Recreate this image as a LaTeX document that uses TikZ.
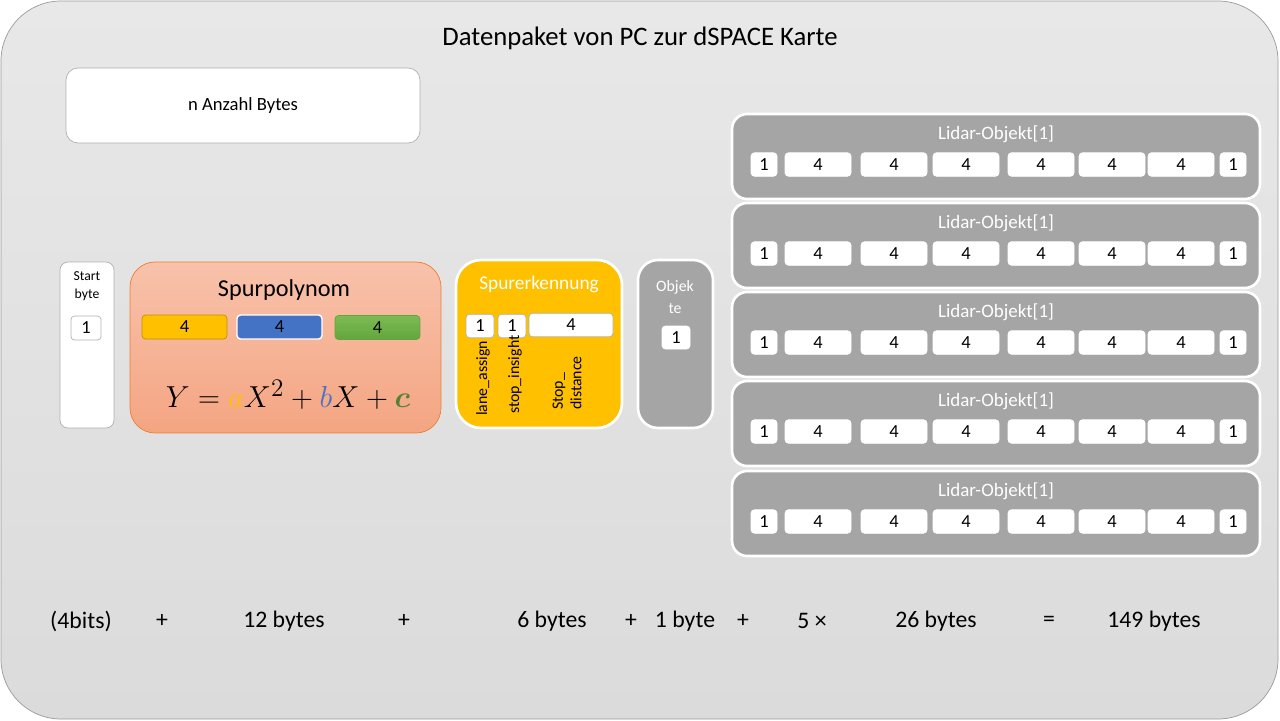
\documentclass[tikz,border=0pt]{standalone}
\usepackage{fontspec}
\setmainfont{Carlito}
\usepackage{amsmath}
\definecolor{bgtop}{HTML}{E8E8E8}
\definecolor{bgbot}{HTML}{DBDBDB}
\definecolor{bgline}{HTML}{9A9A9A}
\definecolor{boxline}{HTML}{B0B0B0}
\definecolor{polytop}{HTML}{F8C2AB}
\definecolor{polybot}{HTML}{F4A582}
\definecolor{polyline}{HTML}{ED7D31}
\definecolor{gold}{HTML}{FFC000}
\definecolor{goldline}{HTML}{BF9000}
\definecolor{bluebar}{HTML}{4472C4}
\definecolor{greentop}{HTML}{7CBB54}
\definecolor{greenbot}{HTML}{64A53D}
\definecolor{greentxt}{HTML}{548235}
\definecolor{objgrey}{HTML}{A5A5A5}
\tikzstyle{wbox}=[shape=rectangle,
                fill=white,
                draw=boxline,
                thin,
                inner sep=0pt]
\tikzstyle{gbox}=[shape=rectangle,
                fill=objgrey,
                draw=white,
                line width=1.5pt,
                inner sep=0pt]
\tikzstyle{byte}=[shape=rectangle,
                fill=white,
                draw=boxline,
                rounded corners=2pt,
                inner sep=0pt,
                minimum height=0.47cm,
                font=\fontsize{10.5}{12}\selectfont]
\tikzstyle{bar}=[shape=rectangle,
                rounded corners=2pt,
                inner sep=0pt,
                minimum height=0.48cm,
                minimum width=1.7cm,
                font=\fontsize{10.5}{12}\selectfont]
\tikzstyle{sum}=[font=\fontsize{13.5}{16}\selectfont]

\begin{document}
\begin{tikzpicture}[x=0.02cm,y=-0.02cm]
\useasboundingbox (0,0) rectangle (1280,720);

% background
\shadedraw[top color=bgtop,bottom color=bgbot,draw=bgline,rounded corners=1.2cm] (1,1) rectangle (1278,719);
\node[font=\fontsize{15.2}{18}\selectfont] (title) at (640,38) {Datenpaket von PC zur dSPACE Karte};
\node[wbox,rounded corners=0.24cm,minimum width=7.08cm,minimum height=1.5cm,font=\fontsize{10.6}{12}\selectfont] (nbytes) at (243,105.5) {n Anzahl Bytes};

% start byte
\node[wbox,rounded corners=0.16cm,minimum width=1.08cm,minimum height=3.32cm] (start) at (87,345) {};
\node[align=center,font=\fontsize{7.8}{10}\selectfont] (startlbl) at (87,286) {Start\\byte};
\node[byte,minimum width=0.6cm,minimum height=0.48cm] (sb) at (86,328) {1};

% Spurpolynom
\node[shape=rectangle,rounded corners=0.5cm,top color=polytop,bottom color=polybot,draw=polyline,minimum width=6.22cm,minimum height=3.42cm] (poly) at (285.5,347.5) {};
\node[font=\fontsize{13.8}{16}\selectfont] (polylbl) at (284,290) {Spurpolynom};
\node[bar,fill=gold,draw=goldline] (pa) at (184.5,327) {4};
\node[bar,fill=bluebar,draw=white,thick] (pb) at (279.5,327) {4};
\node[bar,top color=greentop,bottom color=greenbot,draw=greenbot] (pc) at (377.5,327.5) {4};
\node[font=\fontsize{19}{22}\selectfont] (formula) at (288,395)
  {$Y = \textcolor{gold}{a}X^2 + \textcolor{bluebar}{b}X + \textcolor{greentxt}{\boldsymbol{c}}$};

% Spurerkennung
\node[shape=rectangle,rounded corners=0.5cm,fill=gold,draw=white,line width=1.5pt,minimum width=3.32cm,minimum height=3.36cm] (lane) at (539,344) {};
\node[text=white,font=\fontsize{11}{13}\selectfont] (lanelbl) at (539,284) {Spurerkennung};
\node[byte,minimum width=0.56cm] (la) at (480,326) {1};
\node[byte,minimum width=0.56cm] (lb) at (512,326) {1};
\node[byte,minimum width=1.68cm] (lc) at (571,325) {4};
\node[rotate=90,anchor=west,font=\fontsize{9}{10.5}\selectfont] (latxt) at (483,422) {lane\_assign};
\node[rotate=90,anchor=west,font=\fontsize{9}{10.5}\selectfont] (lbtxt) at (515,420) {stop\_insight};
\node[rotate=90,anchor=west,align=left,font=\fontsize{9}{10.5}\selectfont] (lctxt) at (567,416) {Stop\_\\distance};

% Objekte
\node[gbox,rounded corners=0.4cm,minimum width=1.5cm,minimum height=3.36cm] (obj) at (675.5,344) {};
\node[text=white,align=center,font=\fontsize{9}{13}\selectfont] (objlbl) at (675,297) {Objek\\te};
\node[byte,draw=white,minimum width=0.56cm,minimum height=0.46cm] (ob) at (676,337.5) {1};

% lidar objects
\foreach \r/\t in {1/114,2/203,3/292,4/381,5/471}{
  \node[gbox,rounded corners=0.3cm,minimum width=10.56cm,minimum height=1.7cm] (lo\r) at (996,\t+42.5) {};
  \node[text=white,font=\fontsize{10.8}{12}\selectfont] (lt\r) at (996,\t+20) {Lidar-Objekt[1]};
  \node[byte,draw=white,minimum width=0.52cm] (b\r a) at (764,\t+50.5) {1};
  \node[byte,draw=white,minimum width=1.32cm] (b\r b) at (818,\t+50.5) {4};
  \node[byte,draw=white,minimum width=1.32cm] (b\r c) at (894,\t+50.5) {4};
  \node[byte,draw=white,minimum width=1.32cm] (b\r d) at (966,\t+50.5) {4};
  \node[byte,draw=white,minimum width=1.32cm] (b\r e) at (1041,\t+50.5) {4};
  \node[byte,draw=white,minimum width=1.32cm] (b\r f) at (1112,\t+50.5) {4};
  \node[byte,draw=white,minimum width=1.32cm] (b\r g) at (1181,\t+50.5) {4};
  \node[byte,draw=white,minimum width=0.52cm] (b\r h) at (1233,\t+50.5) {1};
}

% byte count
\node[sum] (s1) at (81,621) {(4bits)};
\node[sum] (p1) at (162,621) {+};
\node[sum] (s2) at (284,621) {12 bytes};
\node[sum] (p2) at (404,621) {+};
\node[sum] (s3) at (552,621) {6 bytes};
\node[sum] (p3) at (631,621) {+};
\node[sum] (s4) at (685,621) {1 byte};
\node[sum] (p4) at (743,621) {+};
\node[sum] (s5) at (812,621) {5 ×};
\node[sum] (s6) at (936,621) {26 bytes};
\node[sum] (eq) at (1049,621) {=};
\node[sum] (s7) at (1154,621) {149 bytes};

\end{tikzpicture}
\end{document}
